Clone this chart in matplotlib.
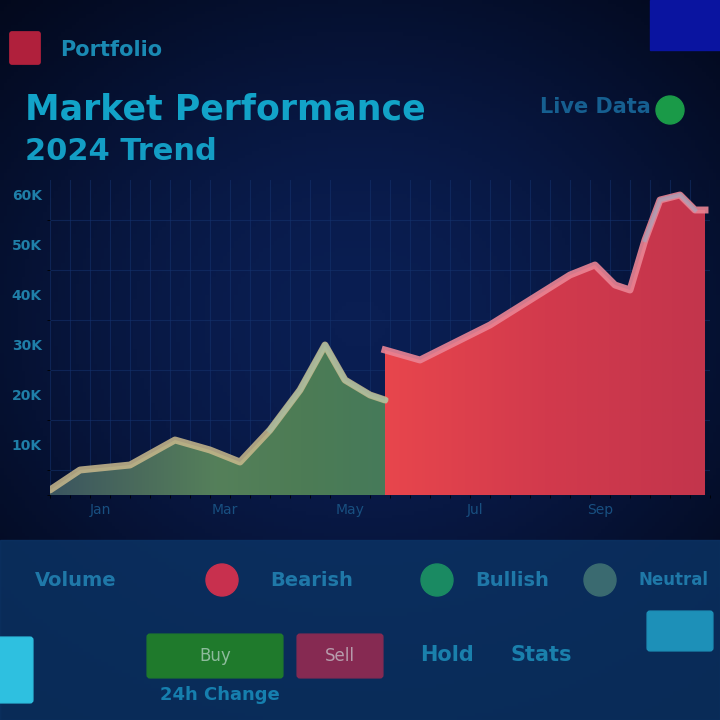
import numpy as np
import matplotlib
matplotlib.use("Agg")
import matplotlib.pyplot as plt
from matplotlib.patches import Rectangle, FancyBboxPatch, Circle
from matplotlib.path import Path
from matplotlib.patches import PathPatch

# ---------------- data ----------------
early_x = [0, 6, 16, 25, 32, 38, 44, 50, 55, 59, 64, 67]
early_y = [1, 5, 6, 11, 9, 6.6, 13, 21, 30, 23, 20, 19]
late_x = [67, 74, 80, 88, 96, 104, 109, 113, 116, 119, 122, 126, 129, 131]
late_y = [29, 27, 30, 34, 39, 44, 46, 42, 41, 51, 59, 60, 57, 57]
y_ticks = [10, 20, 30, 40, 50, 60]
y_tick_labels = ["10K", "20K", "30K", "40K", "50K", "60K"]
x_ticks = [10, 35, 60, 85, 110]
x_tick_labels = ["Jan", "Mar", "May", "Jul", "Sep"]
legend_labels = ["Volume", "Bearish", "Bullish", "Neutral"]
header_label = "Portfolio"
title_lines = ["Market Performance", "2024 Trend"]
status_label = "Live Data"
footer_labels = ["Buy", "Sell", "Hold", "Stats"]

W = H = 720
fig = plt.figure(figsize=(7.2, 7.2), dpi=100)
fig.patch.set_facecolor("#06143c")

def fx(px):
    return px / W

def fy(py):
    return 1 - py / H

# background vignette
bg = fig.add_axes([0, 0, 1, 1], zorder=0)
yy, xx = np.mgrid[0:1:200j, 0:1:200j]
v = np.exp(-(((xx - 0.5) / 0.7) ** 2 + ((yy - 0.55) / 0.6) ** 2))
cmap = matplotlib.colors.LinearSegmentedColormap.from_list("bg", ["#020616", "#0a1e52"])
bg.imshow(v, cmap=cmap, extent=[0, 1, 0, 1], aspect="auto", origin="lower")
# lower panel lighter blue
bg.add_patch(Rectangle((0, 0), 1, fy(540), color="#0b3263", alpha=0.85))
bg.add_patch(Rectangle((fx(650), fy(50)), fx(70), 50 / H, color="#0a14a0"))
bg.set_xlim(0, 1)
bg.set_ylim(0, 1)
bg.axis("off")

# ---------------- main chart ----------------
ax = fig.add_axes([fx(50), fy(495), fx(660), 315 / H], zorder=2)
ax.set_facecolor("none")
ax.set_xlim(0, 132)
ax.set_ylim(0, 63)
for s in ax.spines.values():
    s.set_visible(False)
ax.set_xticks(np.arange(0, 133, 4), minor=True)
ax.set_yticks(np.arange(0, 64, 5), minor=True)
ax.grid(which="minor", color="#15336e", lw=0.8, alpha=0.55)
ax.set_yticks(y_ticks)
ax.set_yticklabels(y_tick_labels, color="#1f7fa8", fontsize=10, fontweight="bold")
ax.set_xticks(x_ticks)
ax.set_xticklabels(x_tick_labels, color="#184f80", fontsize=10)
ax.tick_params(length=0, pad=6)

# early (beige/green) area with gradient
ex = np.array(early_x, float)
ey = np.array(early_y, float)
everts = [(ex[0], 0)] + list(zip(ex, ey)) + [(ex[-1], 0), (ex[0], 0)]
epoly = PathPatch(Path(everts), facecolor="none", edgecolor="none")
ax.add_patch(epoly)
grad = np.linspace(0, 1, 256).reshape(1, -1)
gcmap = matplotlib.colors.LinearSegmentedColormap.from_list(
    "g", ["#3b5560", "#4a6a5c", "#55805a", "#4d7c55", "#467a5a"])
eim = ax.imshow(grad, cmap=gcmap, extent=[ex[0], ex[-1], 0, 63], aspect="auto", zorder=3)
eim.set_clip_path(epoly)
ax.plot(ex, ey, color="#c9b98c", lw=5, alpha=0.85, solid_capstyle="round", zorder=4)
ax.plot(ex[6:], ey[6:], color="#a6c2a8", lw=4, alpha=0.6, zorder=4)

# late (red) area with gradient
lx = np.array(late_x, float)
ly = np.array(late_y, float)
verts = [(lx[0], 0)] + list(zip(lx, ly)) + [(lx[-1], 0), (lx[0], 0)]
poly = PathPatch(Path(verts), facecolor="none", edgecolor="none")
ax.add_patch(poly)
rcmap = matplotlib.colors.LinearSegmentedColormap.from_list("r", ["#e8464d", "#d23a4c", "#c3354c"])
im = ax.imshow(grad, cmap=rcmap, extent=[lx[0], lx[-1], 0, 63], aspect="auto", zorder=3)
im.set_clip_path(poly)
ax.plot(lx, ly, color="#ea8494", lw=5, alpha=0.9, zorder=4)
ax.plot(lx[-5:-1], ly[-5:-1], color="#8fb6cf", lw=3, alpha=0.5, zorder=5)

# ---------------- header ----------------
fig.patches.append(FancyBboxPatch((fx(12), fy(62)), 26 / W, 28 / H, boxstyle="round,pad=0.003",
                                  color="#b0203c", transform=fig.transFigure, figure=fig))
fig.text(fx(60), fy(50), header_label, color="#1a8ab3", fontsize=15, fontweight="bold", va="center")
fig.text(fx(25), fy(110), title_lines[0], color="#12a3c8", fontsize=25, fontweight="bold", va="center")
fig.text(fx(25), fy(152), title_lines[1], color="#139dc4", fontsize=22, fontweight="bold", va="center")
fig.text(fx(540), fy(107), status_label, color="#165f90", fontsize=15, fontweight="bold", va="center")
fig.patches.append(Circle((fx(670), fy(110)), 14 / W, color="#1a9a48", transform=fig.transFigure, figure=fig))

# ---------------- footer ----------------
row_y = 580
dots = [(222, "#c8304e"), (437, "#1a8a62"), (600, "#3a6a70")]
texts_x = [35, 270, 475, 638]
sizes = [14, 14, 14, 12]
for lab, tx, fs in zip(legend_labels, texts_x, sizes):
    fig.text(fx(tx), fy(row_y), lab, color="#1f78a8", fontsize=fs, fontweight="bold", va="center")
for px, c in dots:
    fig.patches.append(Circle((fx(px), fy(row_y)), 16 / W, color=c, transform=fig.transFigure, figure=fig))

boxes = [(150, 280, "#1f7a2c", footer_labels[0]), (300, 380, "#862a52", footer_labels[1])]
for x0, x1, c, lab in boxes:
    fig.patches.append(FancyBboxPatch((fx(x0), fy(675)), (x1 - x0) / W, 38 / H, boxstyle="round,pad=0.004",
                                      color=c, transform=fig.transFigure, figure=fig))
    fig.text(fx((x0 + x1) / 2), fy(656), lab, color="#d8e8e8", fontsize=12, ha="center", va="center", alpha=0.6)
fig.text(fx(420), fy(655), footer_labels[2], color="#1a80ac", fontsize=15, fontweight="bold", va="center")
fig.text(fx(510), fy(655), footer_labels[3], color="#1a80ac", fontsize=15, fontweight="bold", va="center")
fig.patches.append(FancyBboxPatch((fx(-10), fy(700)), 40 / W, 60 / H, boxstyle="round,pad=0.004",
                                  color="#2ec0e0", transform=fig.transFigure, figure=fig))
fig.patches.append(FancyBboxPatch((fx(650), fy(648)), 60 / W, 34 / H, boxstyle="round,pad=0.004",
                                  color="#1d90b8", transform=fig.transFigure, figure=fig))
fig.text(fx(160), fy(695), "24h Change", color="#167fae", fontsize=13, fontweight="bold", va="center")

fig.savefig("out.png", dpi=100, facecolor=fig.get_facecolor())
